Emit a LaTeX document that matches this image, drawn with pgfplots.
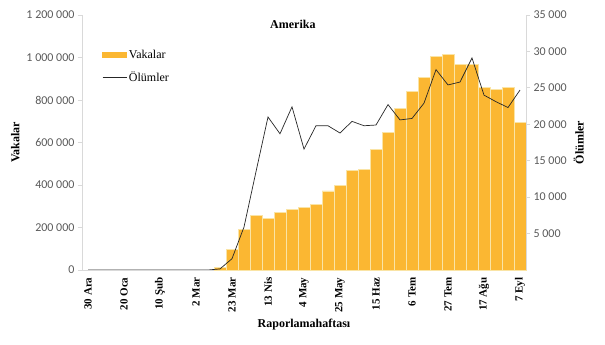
\documentclass[border=0pt]{standalone}
\usepackage{fontspec}
\setmainfont{Liberation Serif}
\newfontfamily\carlito{Carlito}
\usepackage{pgfplots}
\pgfplotsset{compat=1.18}
\definecolor{barc}{RGB}{251,183,50}
\definecolor{barl}{RGB}{250,228,165}
\definecolor{axc}{RGB}{217,217,217}
\definecolor{tickc}{RGB}{89,89,89}
\definecolor{linec}{RGB}{38,38,38}
\begin{document}
\begin{tikzpicture}
\begin{axis}[name=ax1, scale only axis, width=444pt, height=255pt,
 xmin=-0.5, xmax=36.5, ymin=0, ymax=1200000,
 axis y line*=left, axis x line*=bottom,
 axis line style={axc, line width=0.8pt, -},
 ytick={0,200000,400000,600000,800000,1000000,1200000},
 xtick={0,3,...,36},
 xticklabels={30 Ara,20 Oca,10 Şub,2 Mar,23 Mar,13 Nis,4 May,25 May,15 Haz,6 Tem,27 Tem,17 Ağu,7 Eyl},
 x tick label style={rotate=90, anchor=east, font=\bfseries\fontsize{11}{12}\selectfont},
 xtick style={draw=none},
 major tick length=4pt,
 ytick style={axc, line width=0.8pt},
 tick align=outside,
 y tick label style={font=\carlito\fontsize{12}{14}\selectfont, text=tickc},
 /pgf/number format/assume math mode=true,
 scaled y ticks=false,
 yticklabel={\pgfmathprintnumber[fixed, precision=0, 1000 sep={\ }]{\tick}},
 ylabel={Vakalar}, xlabel={Raporlamahaftası},
 label style={font=\bfseries\fontsize{12}{14}\selectfont},
 legend style={at={(rel axis cs:0.045,0.87)}, anchor=north west, draw=none, fill=none,
   font=\fontsize{12}{14}\selectfont, row sep=8pt, inner sep=0pt},
 legend cell align=left,
 clip=false,
]
\addplot[ybar, bar width=1, fill=barc, draw=barl, line width=0.8pt,
  legend image code/.code={\fill[barc] (0pt,-2.5pt) rectangle (24pt,2.5pt);}]
 coordinates {
 (11,14000) (12,97000) (13,191000) (14,256000) (15,243000) (16,270000)
 (17,286000) (18,293000) (19,309000) (20,372000) (21,397000) (22,469000)
 (23,474000) (24,566000) (25,648000) (26,761000) (27,839000) (28,907000)
 (29,1004000) (30,1013000) (31,968000) (32,968000) (33,858000) (34,850000)
 (35,858000) (36,693000)};
\addlegendentry{Vakalar}
\addlegendimage{linec, line width=0.7pt, legend image code/.code={\draw[linec, line width=0.7pt] (0pt,0pt) -- (24pt,0pt);}}
\addlegendentry{Ölümler}
\node[font=\bfseries\fontsize{12}{14}\selectfont] at (rel axis cs:0.475,0.965) {Amerika};
\end{axis}
\begin{axis}[at={(ax1.south west)}, anchor=south west, scale only axis, width=444pt, height=255pt,
 xmin=-0.5, xmax=36.5, ymin=0, ymax=35000,
 axis y line*=right, axis x line=none,
 axis line style={axc, line width=0.8pt, -},
 ytick={5000,10000,15000,20000,25000,30000,35000},
 major tick length=4pt,
 ytick style={axc, line width=0.8pt},
 tick align=outside,
 y tick label style={font=\carlito\fontsize{12}{14}\selectfont, text=tickc},
 /pgf/number format/assume math mode=true,
 scaled y ticks=false,
 yticklabel={\pgfmathprintnumber[fixed, precision=0, 1000 sep={\ }]{\tick}},
 ylabel={Ölümler},
 label style={font=\bfseries\fontsize{12}{14}\selectfont},
]
\addplot[linec, line width=0.7pt, mark=none] coordinates {
 (0,0) (1,0) (2,0) (3,0) (4,0) (5,0) (6,0) (7,0) (8,0) (9,0) (10,0)
 (11,150) (12,1550) (13,5900) (14,13500) (15,21000) (16,18700) (17,22400)
 (18,16600) (19,19800) (20,19800) (21,18800) (22,20400) (23,19800) (24,19900)
 (25,22700) (26,20600) (27,20800) (28,22900) (29,27500) (30,25400) (31,25800)
 (32,29100) (33,24000) (34,23100) (35,22300) (36,24700)};
\end{axis}
\pgfresetboundingbox
\path ([shift={(-82pt,-75pt)}]ax1.south west) rectangle ([shift={(79pt,15pt)}]ax1.north east);
\end{tikzpicture}
\end{document}
